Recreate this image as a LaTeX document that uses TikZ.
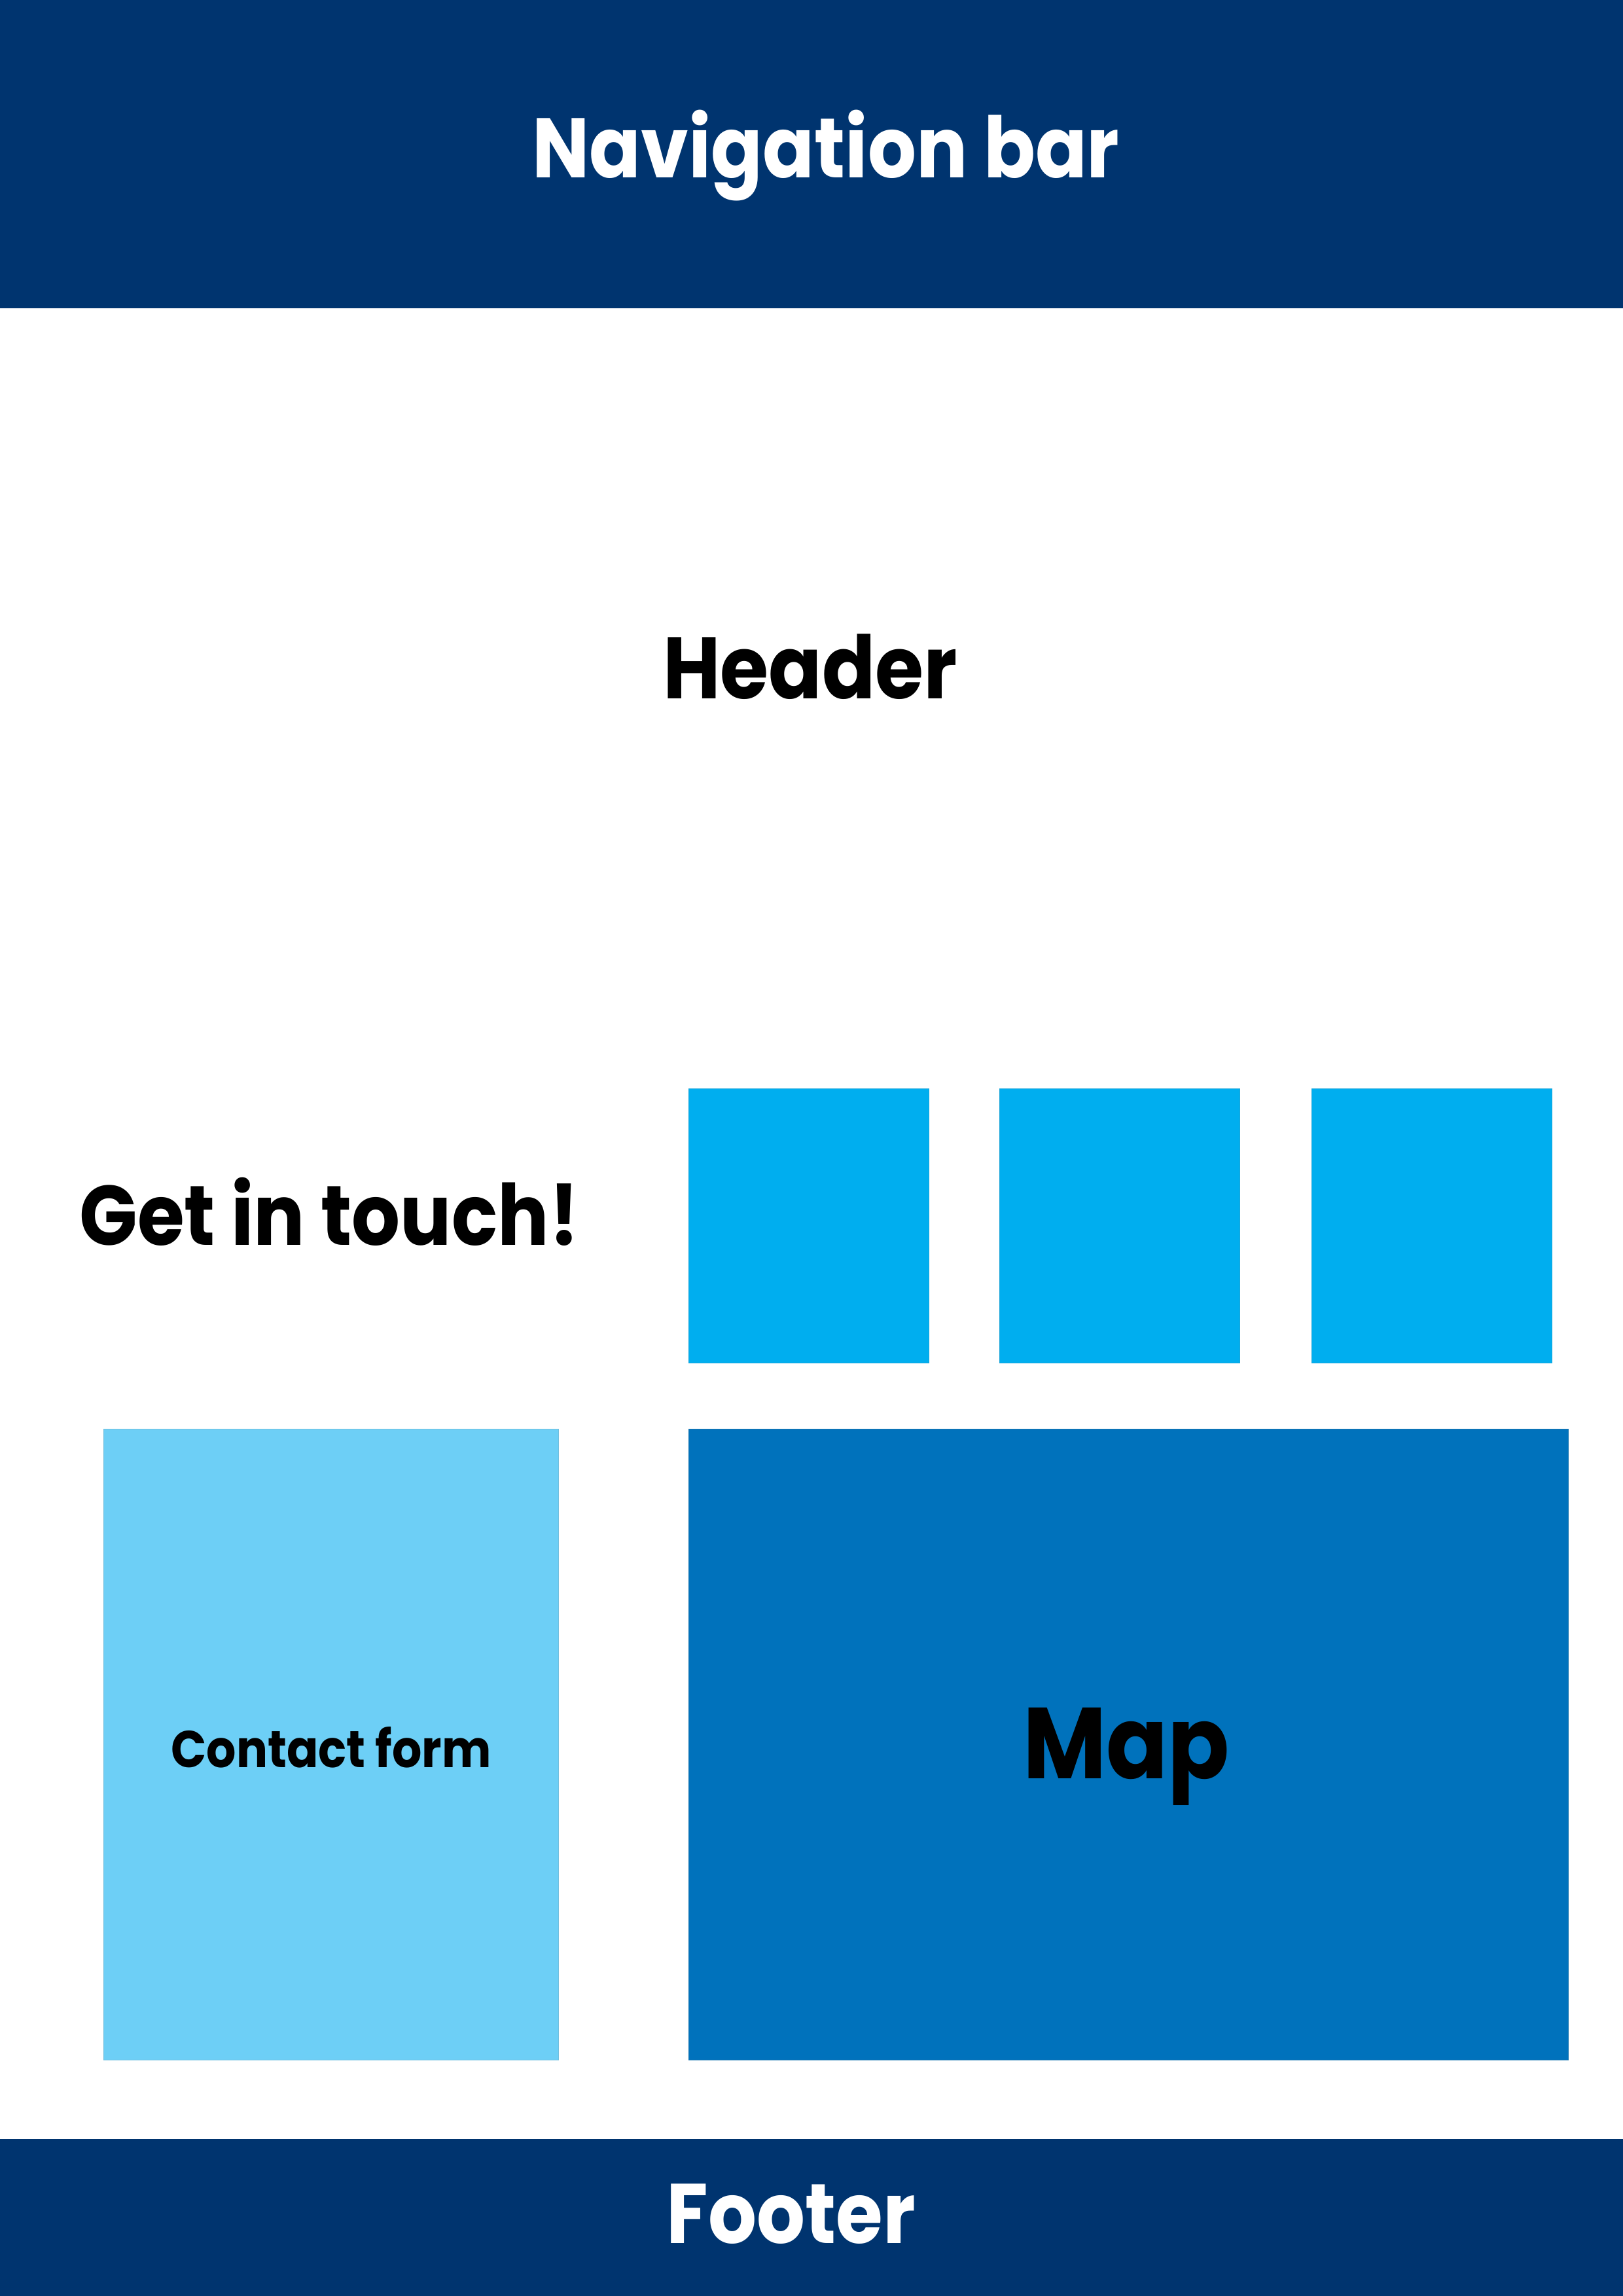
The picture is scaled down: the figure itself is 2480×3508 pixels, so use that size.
\documentclass[tikz,border=0pt]{standalone}
\usepackage{fontspec}
\setmainfont{Poppins}[FakeStretch=0.9]
\definecolor{navy}{HTML}{00346F}
\definecolor{cyanbox}{HTML}{00AEEF}
\definecolor{lightbox}{HTML}{6DCFF6}
\definecolor{mapblue}{HTML}{0072BC}
\begin{document}
\begin{tikzpicture}[x=0.0846774mm,y=-0.0846774mm,
  block/.style={line width=0.2pt},
  label/.style={anchor=base,inner sep=0pt,font=\bfseries\fontsize{31bp}{37bp}\selectfont},
  whitelabel/.style={label,text=white}]
\useasboundingbox (0,0) rectangle (2480,3508);
\fill[white] (0,0) rectangle (2480,3508);

% bars
\fill[navy] (0,0) rectangle (2480,471);
\fill[navy] (0,3268) rectangle (2480,3508);

% three tiles
\filldraw[block,fill=cyanbox,draw=cyanbox!80!gray] (1052,1663) rectangle (1419,2082);
\filldraw[block,fill=cyanbox,draw=cyanbox!80!gray] (1527,1663) rectangle (1894,2082);
\filldraw[block,fill=cyanbox,draw=cyanbox!80!gray] (2004,1663) rectangle (2371,2082);

% contact form and map
\filldraw[block,fill=lightbox,draw=lightbox!80!gray] (158,2183) rectangle (853,3147);
\filldraw[block,fill=mapblue,draw=mapblue!80!gray] (1052,2183) rectangle (2396,3147);

% labels
\node[whitelabel] (nav) at (1262,271) {Navigation bar};
\node[label,font=\bfseries\fontsize{32bp}{38bp}\selectfont] (header) at (1238,1067) {Header};
\node[label] (touch) at (503,1902) {Get in touch!};
\node[label,font=\bfseries\fontsize{19bp}{23bp}\selectfont] (contact) at (506,2700) {Contact form};
\node[label,font=\bfseries\fontsize{37bp}{44bp}\selectfont] (map) at (1721,2717) {Map};
\node[whitelabel] (footer) at (1209,3427) {Footer};
\end{tikzpicture}
\end{document}
